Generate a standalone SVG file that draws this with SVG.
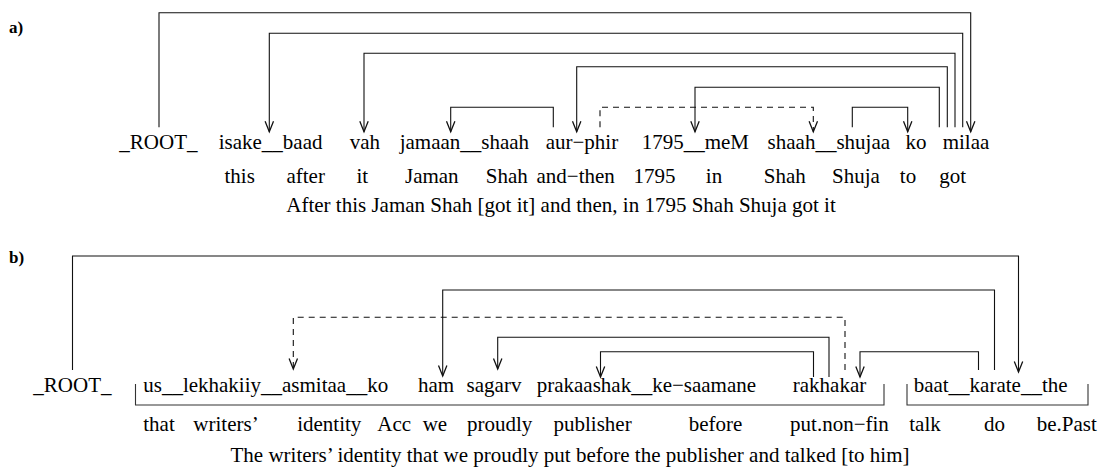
<svg xmlns="http://www.w3.org/2000/svg" width="1099" height="468" viewBox="0 0 1099 468">
<style>
  .w { font-family: "Liberation Serif", "Times New Roman", serif; font-size: 21px; fill: #000; text-anchor: middle; }
  .lab { font-family: "Liberation Serif", "Times New Roman", serif; font-size: 17px; font-weight: bold; fill: #000; }
  .c { fill: none; stroke: #111; stroke-width: 1.1; }
  .d { stroke-dasharray: 6 5; }
  .br { fill: none; stroke: #333; stroke-width: 1.1; }
</style>
<defs>
  <marker id="arr" markerUnits="userSpaceOnUse" markerWidth="14" markerHeight="14" viewBox="-11 -6 12 12" refX="0" refY="0" orient="auto" overflow="visible">
    <path d="M-9,-3.6 L0,0 L-9,3.6" fill="none" stroke="#111" stroke-width="1.1"/>
  </marker>
</defs>
<rect width="1099" height="468" fill="#fff"/>

<text class="lab" x="9" y="33">a)</text>
<text class="lab" x="9" y="263">b)</text>

<!-- part a nodes -->
<g id="a-root"><text class="w" x="158.4" y="149">_ROOT_</text></g>
<g id="a-isake-baad"><text class="w" x="270.6" y="149">isake__baad</text></g>
<g id="a-vah"><text class="w" x="364.8" y="149">vah</text></g>
<g id="a-jamaan-shaah"><text class="w" x="464.4" y="149">jamaan__shaah</text></g>
<g id="a-aur-phir"><text class="w" x="581.9" y="149">aur−phir</text></g>
<g id="a-1795-meM"><text class="w" x="695.3" y="149">1795__meM</text></g>
<g id="a-shaah-shujaa"><text class="w" x="828.8" y="149">shaah__shujaa</text></g>
<g id="a-ko"><text class="w" x="916.1" y="149">ko</text></g>
<g id="a-milaa"><text class="w" x="966" y="149">milaa</text></g>

<g id="a-glosses">
  <text class="w" x="239.7" y="182.5">this</text>
  <text class="w" x="305.7" y="182.5">after</text>
  <text class="w" x="362.3" y="182.5">it</text>
  <text class="w" x="431.8" y="182.5">Jaman</text>
  <text class="w" x="506.8" y="182.5">Shah</text>
  <text class="w" x="575.7" y="182.5">and−then</text>
  <text class="w" x="654.5" y="182.5">1795</text>
  <text class="w" x="714" y="182.5">in</text>
  <text class="w" x="784.8" y="182.5">Shah</text>
  <text class="w" x="856" y="182.5">Shuja</text>
  <text class="w" x="908" y="182.5">to</text>
  <text class="w" x="952.7" y="182.5">got</text>
</g>
<g id="a-caption"><text class="w" x="561" y="212">After this Jaman Shah [got it] and then, in 1795 Shah Shuja got it</text></g>

<!-- part b nodes -->
<g id="b-root"><text class="w" x="72.4" y="392">_ROOT_</text></g>
<g id="b-us-lekhakiiy-asmitaa-ko"><text class="w" x="265.7" y="392">us__lekhakiiy__asmitaa__ko</text></g>
<g id="b-ham"><text class="w" x="436" y="392">ham</text></g>
<g id="b-sagarv"><text class="w" x="494" y="392">sagarv</text></g>
<g id="b-prakaashak-ke-saamane"><text class="w" x="646.4" y="392">prakaashak__ke−saamane</text></g>
<g id="b-rakhakar"><text class="w" x="829.5" y="392">rakhakar</text></g>
<g id="b-baat-karate-the"><text class="w" x="990.6" y="392">baat__karate__the</text></g>

<g id="b-brackets">
  <path class="br" d="M135.5,384 V405 H884 V384"/>
  <path class="br" d="M907,384 V405 H1088 V384"/>
</g>

<g id="b-glosses">
  <text class="w" x="159" y="431">that</text>
  <text class="w" x="226" y="431">writers’</text>
  <text class="w" x="329.3" y="431">identity</text>
  <text class="w" x="394.2" y="431">Acc</text>
  <text class="w" x="434.9" y="431">we</text>
  <text class="w" x="499.7" y="431">proudly</text>
  <text class="w" x="592.6" y="431">publisher</text>
  <text class="w" x="715.6" y="431">before</text>
  <text class="w" x="839.5" y="431">put.non−fin</text>
  <text class="w" x="925" y="431">talk</text>
  <text class="w" x="994.5" y="431">do</text>
  <text class="w" x="1066.7" y="431">be.Past</text>
</g>
<g id="b-caption"><text class="w" x="570" y="462">The writers’ identity that we proudly put before the publisher and talked [to him]</text></g>

<!-- connectors -->
<g id="connectors">
  <path class="c" marker-end="url(#arr)" d="M159,127.3 V12.7 H970.7 V131.7"/>
  <path class="c" marker-end="url(#arr)" d="M962.7,127.3 V33.3 H269.3 V131.7"/>
  <path class="c" marker-end="url(#arr)" d="M955,127.3 V53.3 H364 V131.7"/>
  <path class="c" marker-end="url(#arr)" d="M947.3,127.3 V66.7 H576.7 V131.7"/>
  <path class="c" marker-end="url(#arr)" d="M939.3,127.3 V87.3 H695 V131.7"/>
  <path class="c" marker-end="url(#arr)" d="M553.3,127.3 V107.3 H450.7 V131.7"/>
  <path class="c d" marker-end="url(#arr)" d="M600,127.3 V107.3 H813.3 V131.7"/>
  <path class="c" marker-end="url(#arr)" d="M852.3,127.3 V107.3 H907.7 V131.7"/>

  <path class="c" marker-end="url(#arr)" d="M72.5,370 V256 H1018.5 V372"/>
  <path class="c" marker-end="url(#arr)" d="M994.5,370 V290 H442.7 V376"/>
  <path class="c d" marker-end="url(#arr)" d="M845,370 V317.3 H293.3 V369"/>
  <path class="c" marker-end="url(#arr)" d="M829,377 V337.3 H497.7 V369"/>
  <path class="c" marker-end="url(#arr)" d="M813.5,377 V351.7 H600.5 V377"/>
  <path class="c" marker-end="url(#arr)" d="M978.5,370 V351.7 H860 V377"/>
</g>
</svg>
